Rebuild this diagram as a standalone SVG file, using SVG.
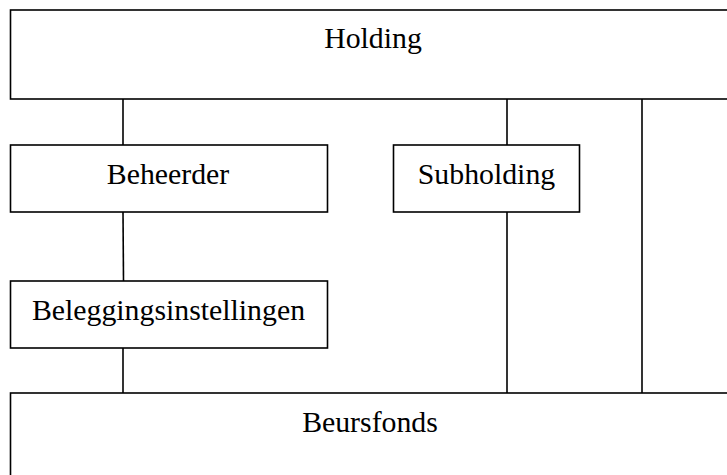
<svg xmlns="http://www.w3.org/2000/svg" width="727" height="475" viewBox="0 0 727 475">
<style>
.box{fill:#fff;stroke:#000;stroke-width:1.6}
.lbl{font-family:"Liberation Serif","Times New Roman",serif;font-size:29.8px;fill:#000;text-anchor:middle}
.conn{stroke:#000;stroke-width:1.6;fill:none}
</style>
<rect width="727" height="475" fill="#fff"/>
<g id="connectors">
<line class="conn" x1="123" y1="99" x2="123" y2="145"/>
<line class="conn" x1="123" y1="212" x2="123.5" y2="281"/>
<line class="conn" x1="123" y1="348" x2="123" y2="393"/>
<line class="conn" x1="507" y1="99" x2="507" y2="145"/>
<line class="conn" x1="507" y1="212" x2="507" y2="393"/>
<line class="conn" x1="642" y1="99" x2="642" y2="393"/>
</g>
<g id="holding">
<rect class="box" x="10.5" y="10" width="730" height="89"/>
<text class="lbl" x="373" y="48">Holding</text>
</g>
<g id="beheerder">
<rect class="box" x="10.5" y="145" width="317" height="67"/>
<text class="lbl" x="168" y="184">Beheerder</text>
</g>
<g id="subholding">
<rect class="box" x="393.5" y="145" width="186" height="67"/>
<text class="lbl" x="486.5" y="184">Subholding</text>
</g>
<g id="beleggingsinstellingen">
<rect class="box" x="10.5" y="281" width="317" height="67"/>
<text class="lbl" x="168.5" y="320">Beleggingsinstellingen</text>
</g>
<g id="beursfonds">
<rect class="box" x="10.5" y="393" width="730" height="100"/>
<text class="lbl" x="370" y="432">Beursfonds</text>
</g>
</svg>
